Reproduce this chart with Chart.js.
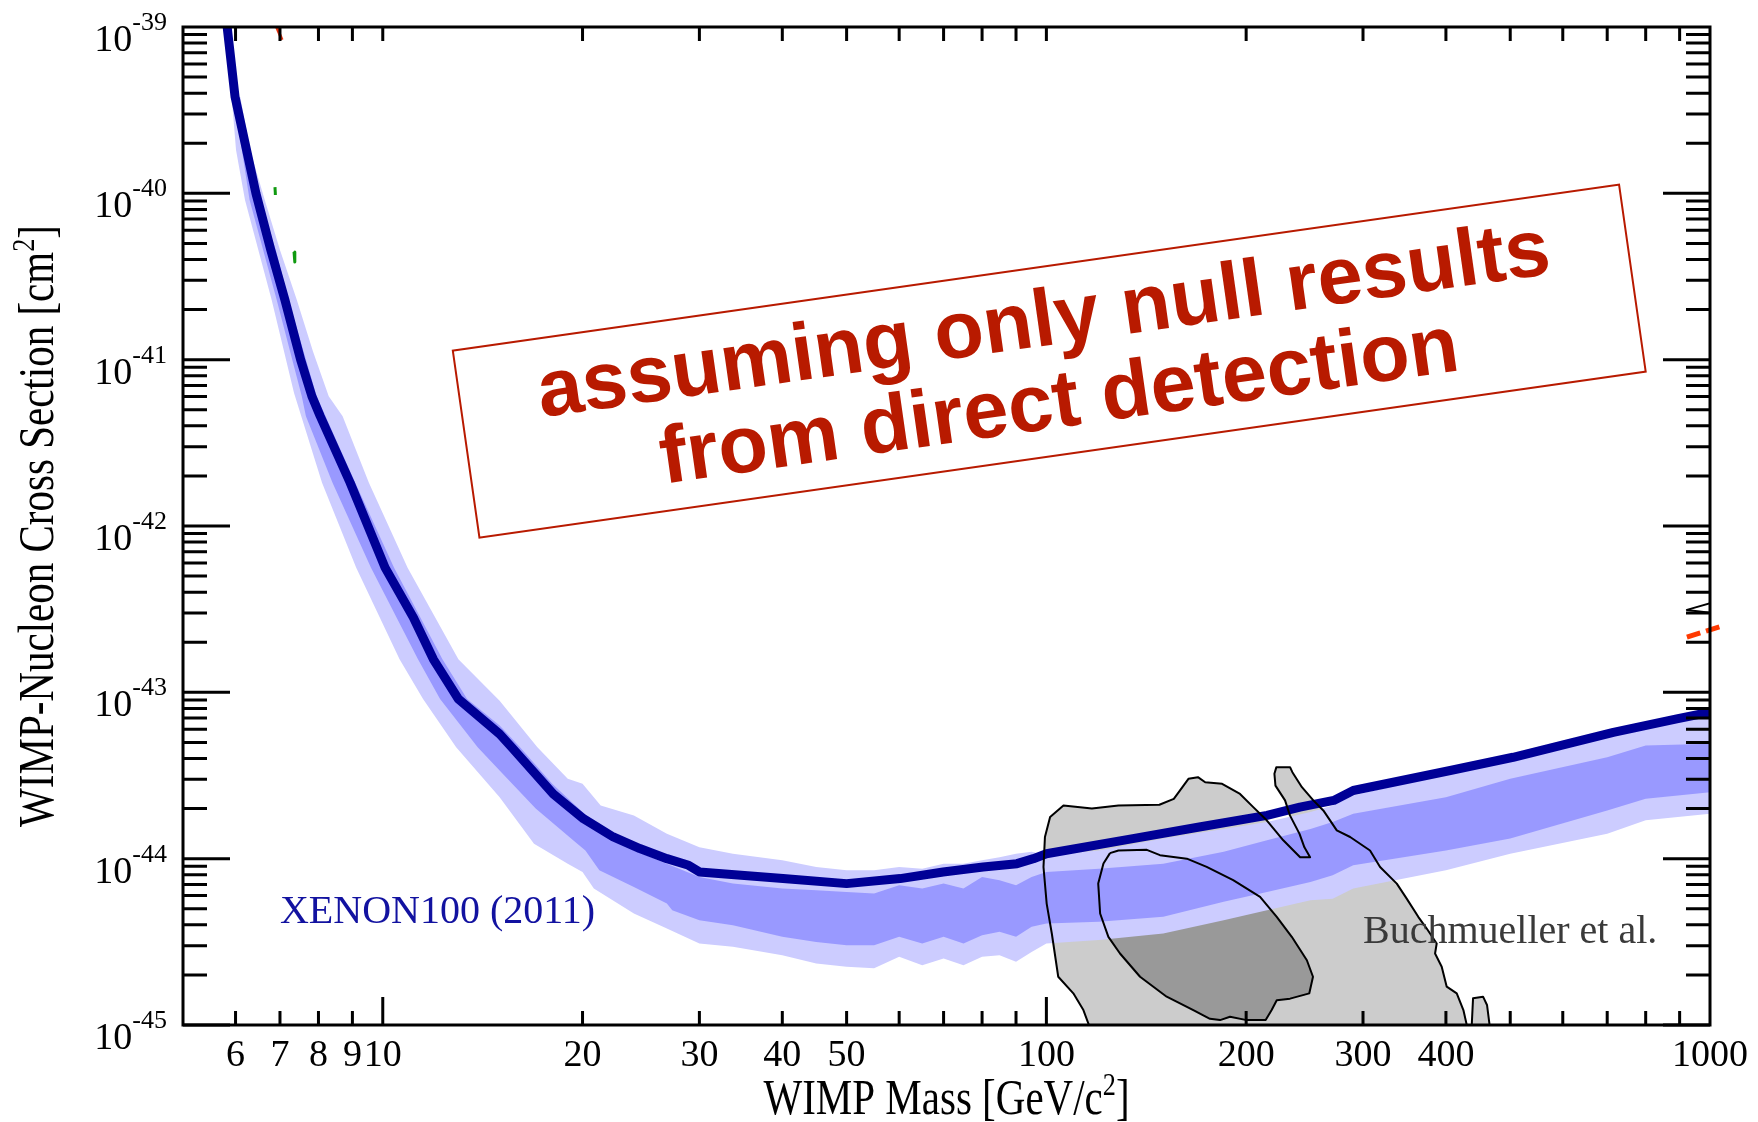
<!DOCTYPE html>
<html>
<head>
<meta charset="utf-8">
<title>XENON100 (2011) WIMP-nucleon limit</title>
<script src="https://cdn.jsdelivr.net/npm/chart.js@4.4.1/dist/chart.umd.min.js"></script>
<style>
  html, body { margin: 0; padding: 0; background: #fff; }
  #wrap { width: 1758px; height: 1122px; position: relative; }
</style>
</head>
<body>
<div id="wrap"><canvas id="limitChart"></canvas></div>
<script>
// XENON100 (2011) observed limit, mass in GeV/c^2, cross section in cm^2
const xenonMass = [5.79, 5.99, 6.44, 6.78, 7.12, 7.52, 7.82, 8.05, 8.93, 10.08, 11.12, 11.92, 13.0, 15.0, 15.64, 18.07, 20.06, 22.25, 24.4, 26.8, 28.9, 30.0, 40.1, 50.0, 60.2, 69.9, 80.3, 90.3, 95.6, 100, 135, 170, 215, 241, 271, 290, 406, 505, 622, 715, 891, 1000];
const xenonSigma = [1.26e-39, 3.80e-40, 1.00e-40, 4.57e-41, 2.29e-41, 1.00e-41, 6.03e-42, 4.57e-42, 1.82e-42, 5.62e-43, 2.82e-43, 1.58e-43, 9.12e-44, 5.62e-44, 4.68e-44, 2.45e-44, 1.74e-44, 1.35e-44, 1.15e-44, 1.00e-44, 9.12e-45, 8.32e-45, 7.59e-45, 7.08e-45, 7.59e-45, 8.32e-45, 8.91e-45, 9.33e-45, 1.00e-44, 1.07e-44, 1.32e-44, 1.55e-44, 1.82e-44, 2.04e-44, 2.24e-44, 2.57e-44, 3.39e-44, 4.07e-44, 5.01e-44, 5.75e-44, 6.92e-44, 7.59e-44];

// expected sensitivity, 2 sigma band (upper / lower edge)
const band2UpMass = [5.92, 6.10, 6.31, 6.64, 7.00, 7.42, 7.85, 8.29, 8.70, 9.53, 10.9, 13.0, 15.0, 17.1, 19.0, 20.0, 21.3, 23.9, 26.8, 30, 33.7, 40, 45, 50, 55, 60, 65, 70, 75, 80, 85, 90, 95, 100, 120, 150, 185, 215, 250, 270, 290, 400, 500, 700, 800, 1000];
const band2UpSigma = [3.80e-40, 3.80e-40, 1.82e-40, 9.12e-41, 4.57e-41, 2.29e-41, 1.12e-41, 6.03e-42, 4.57e-42, 1.82e-42, 5.62e-43, 1.58e-43, 8.91e-44, 4.68e-44, 3.02e-44, 2.82e-44, 2.09e-44, 1.82e-44, 1.41e-44, 1.17e-44, 1.07e-44, 9.77e-45, 8.91e-45, 8.51e-45, 8.51e-45, 8.91e-45, 8.71e-45, 9.33e-45, 9.33e-45, 9.77e-45, 1.02e-44, 1.07e-44, 1.10e-44, 1.05e-44, 1.12e-44, 1.32e-44, 1.51e-44, 1.66e-44, 1.91e-44, 2.09e-44, 2.40e-44, 3.24e-44, 3.89e-44, 5.50e-44, 6.31e-44, 7.08e-44];
const band2LoMass = [5.92, 6.01, 6.20, 6.80, 7.35, 8.10, 9.12, 10.6, 11.5, 12.9, 15.0, 16.9, 19.0, 20.0, 20.8, 23.9, 26.8, 27.1, 30, 33.7, 40, 45, 50, 55, 60, 65, 70, 75, 80, 85, 90, 95, 100, 120, 150, 185, 215, 250, 270, 290, 400, 500, 700, 800, 1000];
const band2LoSigma = [3.80e-40, 1.82e-40, 9.12e-41, 2.29e-41, 6.31e-42, 1.82e-42, 5.62e-43, 1.58e-43, 9.12e-44, 4.68e-44, 2.34e-44, 1.23e-44, 9.33e-45, 8.32e-45, 6.61e-45, 4.68e-45, 3.80e-45, 3.72e-45, 3.09e-45, 2.95e-45, 2.63e-45, 2.34e-45, 2.24e-45, 2.19e-45, 2.57e-45, 2.29e-45, 2.51e-45, 2.29e-45, 2.57e-45, 2.63e-45, 2.40e-45, 2.75e-45, 3.09e-45, 3.24e-45, 3.55e-45, 4.27e-45, 4.90e-45, 5.62e-45, 5.75e-45, 6.61e-45, 8.51e-45, 1.07e-44, 1.41e-44, 1.70e-44, 1.86e-44];

// expected sensitivity, 1 sigma band
const band1UpMass = [5.96, 6.02, 6.47, 6.90, 7.21, 7.95, 8.20, 9.09, 10.4, 12.3, 13.4, 15.0, 16.1, 18.0, 21.3, 23.9, 26.8, 30, 33.7, 40, 45, 50, 55, 60, 65, 70, 75, 80, 85, 90, 95, 100, 120, 150, 185, 215, 250, 270, 290, 400, 500, 700, 800, 1000];
const band1UpSigma = [3.80e-40, 3.80e-40, 1.00e-40, 4.57e-41, 2.29e-41, 6.03e-42, 4.57e-42, 1.82e-42, 5.62e-43, 1.58e-43, 9.12e-44, 6.31e-44, 4.68e-44, 2.82e-44, 1.51e-44, 1.12e-44, 9.33e-45, 7.76e-45, 7.08e-45, 6.61e-45, 6.46e-45, 6.31e-45, 6.17e-45, 6.92e-45, 6.61e-45, 7.08e-45, 6.61e-45, 7.76e-45, 7.41e-45, 6.92e-45, 7.76e-45, 8.32e-45, 8.71e-45, 9.33e-45, 1.10e-44, 1.29e-44, 1.51e-44, 1.66e-44, 1.86e-44, 2.34e-44, 3.02e-44, 4.07e-44, 4.79e-44, 4.90e-44];
const band1LoMass = [5.96, 6.30, 6.92, 7.55, 7.66, 8.40, 9.60, 11.3, 12.2, 13.9, 15.0, 17.0, 19.5, 20.2, 21.2, 23.9, 26.8, 27.3, 30, 33.7, 40, 45, 50, 55, 60, 65, 70, 75, 80, 85, 90, 95, 100, 120, 150, 185, 215, 250, 270, 290, 400, 500, 700, 800, 1000];
const band1LoSigma = [3.80e-40, 9.12e-41, 2.29e-41, 6.03e-42, 4.57e-42, 1.82e-42, 5.62e-43, 1.58e-43, 9.12e-44, 4.68e-44, 3.39e-44, 2.00e-44, 1.26e-44, 1.12e-44, 8.51e-45, 6.76e-45, 5.37e-45, 4.90e-45, 4.27e-45, 3.98e-45, 3.39e-45, 3.16e-45, 3.02e-45, 3.02e-45, 3.39e-45, 3.09e-45, 3.39e-45, 3.09e-45, 3.47e-45, 3.63e-45, 3.39e-45, 3.89e-45, 4.07e-45, 4.17e-45, 4.47e-45, 5.50e-45, 6.31e-45, 7.24e-45, 7.94e-45, 9.12e-45, 1.12e-44, 1.32e-44, 1.95e-44, 2.29e-44, 2.51e-44];

// Buchmueller et al. CMSSM fit contours (outer = 2 sigma, inner = 1 sigma)
const buchOuterMass = [118.4, 113.7, 109.8, 104.2, 101.9, 100.1, 99.0, 99.5, 101.3, 106.1, 117.1, 128.4, 148.0, 155.6, 163.7, 169.2, 173.5, 184.0, 195.8, 205.0, 214.8, 227.5, 241.2, 249.7, 244.8, 240.7, 232.8, 228.9, 221.4, 220.6, 222.1, 232.9, 234.8, 242.7, 252.5, 261.4, 273.9, 286.9, 307.4, 318.3, 337.3, 349.1, 363.4, 374.2, 387.4, 385.2, 394.2, 401.1, 415.3, 425.0, 430.0, 437.5, 439.5, 455.0, 461.3, 468.9];
const buchOuterSigma = [7.94e-46, 1.23e-45, 1.55e-45, 1.95e-45, 3.55e-45, 5.37e-45, 8.91e-45, 1.35e-44, 1.78e-44, 2.09e-44, 2.00e-44, 2.09e-44, 2.11e-44, 2.29e-44, 3.02e-44, 3.09e-44, 2.88e-44, 2.82e-44, 2.45e-44, 2.04e-44, 1.70e-44, 1.29e-44, 1.02e-44, 1.02e-44, 1.17e-44, 1.41e-44, 1.82e-44, 2.24e-44, 2.75e-44, 3.24e-44, 3.55e-44, 3.55e-44, 3.31e-44, 2.69e-44, 2.24e-44, 1.95e-44, 1.48e-44, 1.35e-44, 1.12e-44, 8.91e-45, 7.08e-45, 5.75e-45, 4.47e-45, 3.80e-45, 3.09e-45, 2.69e-45, 2.24e-45, 1.70e-45, 1.55e-45, 1.23e-45, 1.00e-45, 1.00e-45, 1.45e-45, 1.48e-45, 1.32e-45, 7.94e-46];
const buchInnerMass = [124.7, 128.4, 141.7, 148.3, 162.8, 174.4, 191.2, 209.9, 222.4, 234.3, 246.9, 252.2, 249.0, 232.9, 222.4, 218.5, 214.0, 200.4, 189.1, 182.7, 176.4, 166.5, 151.8, 138.4, 129.1, 124.0, 120.5, 119.7, 121.9, 124.7];
const buchInnerSigma = [1.08e-44, 1.12e-44, 1.13e-44, 1.05e-44, 1.00e-44, 8.93e-45, 7.43e-45, 5.89e-45, 4.47e-45, 3.39e-45, 2.45e-45, 1.95e-45, 1.55e-45, 1.44e-45, 1.41e-45, 1.23e-45, 1.07e-45, 1.07e-45, 1.12e-45, 1.07e-45, 1.09e-45, 1.23e-45, 1.48e-45, 1.95e-45, 2.69e-45, 3.39e-45, 4.68e-45, 7.10e-45, 9.35e-45, 1.08e-44];

// bits of other curves that poke into the frame
const redTopMass = [6.85, 7.05];
const redTopSigma = [1.10e-39, 8.36e-40];
const greenMassA = [6.88, 6.89];
const greenSigmaA = [1.09e-40, 9.77e-41];
const greenMassB = [7.35, 7.37];
const greenSigmaB = [4.44e-41, 3.86e-41];
const blackEdgeMass = [1010, 923, 1010];
const blackEdgeSigma = [3.47e-43, 3.13e-43, 2.99e-43];
const redDashMass = [923, 1042];
const redDashSigma = [2.15e-43, 2.50e-43];

// axis ticks
const xTickValues = [6, 7, 8, 9, 10, 20, 30, 40, 50, 100, 200, 300, 400, 1000];
const xTickLabels = ['6', '7', '8', '9', '10', '20', '30', '40', '50', '100', '200', '300', '400', '1000'];
const yDecadeExponents = [-39, -40, -41, -42, -43, -44, -45];

// where the text annotations sit (data coordinates)
const xenonLabelAt = [7.0, 4.1e-45];
const buchLabelAt = [300, 3.1e-45];
const noteBoxAt = [101, 9.8e-42];

const serif = '"Liberation Serif", "Times New Roman", Times, serif';

const pts = (ms, ss) => ms.map((m, i) => ({ x: m, y: ss[i] }));
const ring = (upM, upS, loM, loS) => pts(upM, upS).concat(pts(loM, loS).reverse());

// text made of pieces: [string, font size, baseline shift]
function drawRich(ctx, parts, x, y, align) {
    let total = 0;
    parts.forEach(p => { ctx.font = p[1] + 'px ' + serif; total += ctx.measureText(p[0]).width; });
    let cx = align === 'right' ? x - total : (align === 'center' ? x - total / 2 : x);
    ctx.textAlign = 'left';
    parts.forEach(p => {
        ctx.font = p[1] + 'px ' + serif;
        ctx.fillText(p[0], cx, y + p[2]);
        cx += ctx.measureText(p[0]).width;
    });
}

function drawTitle(ctx, parts, cx, cy, angle, squeeze) {
    ctx.save();
    ctx.translate(cx, cy);
    ctx.rotate(angle);
    ctx.scale(squeeze, 1);
    drawRich(ctx, parts, 0, 0, 'center');
    ctx.restore();
}

const frameAndLabels = {
    id: 'frameAndLabels',
    afterDatasetsDraw(chart) {
        const { ctx, chartArea: a, scales: { x, y } } = chart;
        ctx.save();
        ctx.strokeStyle = '#000';
        ctx.fillStyle = '#000';
        ctx.lineWidth = 3;

        // ticks point inwards on all four sides
        ctx.beginPath();
        for (let e = 0; e <= 3; e++) {
            for (let k = 1; k <= 9; k++) {
                const v = k * Math.pow(10, e);
                if (v <= 5 || v >= 1000) continue;
                const px = x.getPixelForValue(v);
                ctx.moveTo(px, a.bottom);
                ctx.lineTo(px, a.bottom - (k === 1 ? 28 : 14));
                ctx.moveTo(px, a.top);
                ctx.lineTo(px, a.top + 14);
            }
        }
        for (let e = -45; e < -39; e++) {
            for (let k = 1; k <= 9; k++) {
                const py = y.getPixelForValue(k * Math.pow(10, e));
                const len = k === 1 ? 47 : 24;
                ctx.moveTo(a.left, py);
                ctx.lineTo(a.left + len, py);
                ctx.moveTo(a.right, py);
                ctx.lineTo(a.right - len, py);
            }
        }
        ctx.stroke();
        ctx.strokeRect(a.left, a.top, a.right - a.left, a.bottom - a.top);

        // tick labels
        ctx.textAlign = 'center';
        ctx.font = '38px ' + serif;
        xTickValues.forEach((v, i) => ctx.fillText(xTickLabels[i], x.getPixelForValue(v), a.bottom + 41));
        yDecadeExponents.forEach(e => {
            const py = y.getPixelForValue(Math.pow(10, e));
            drawRich(ctx, [['10', 38, 24], [String(e), 26, 3]], a.left - 16, py, 'right');
        });

        // axis titles
        drawTitle(ctx, [['WIMP Mass [GeV/c', 50, 0], ['2', 32, -19], [']', 50, 0]],
            (a.left + a.right) / 2, a.bottom + 89, 0, 0.82);
        drawTitle(ctx, [['WIMP-Nucleon Cross Section [cm', 50, 0], ['2', 32, -19], [']', 50, 0]],
            53, (a.top + a.bottom) / 2, -Math.PI / 2, 0.82);

        // curve labels
        ctx.textAlign = 'left';
        ctx.fillStyle = '#1212a0';
        ctx.font = '40px ' + serif;
        ctx.fillText('XENON100 (2011)', x.getPixelForValue(xenonLabelAt[0]), y.getPixelForValue(xenonLabelAt[1]));
        ctx.fillStyle = '#3a3a3a';
        ctx.font = '40px ' + serif;
        ctx.fillText('Buchmueller et al.', x.getPixelForValue(buchLabelAt[0]), y.getPixelForValue(buchLabelAt[1]));

        // tilted note box
        ctx.translate(x.getPixelForValue(noteBoxAt[0]), y.getPixelForValue(noteBoxAt[1]));
        ctx.rotate(-8.1 * Math.PI / 180);
        ctx.strokeStyle = '#b81a00';
        ctx.lineWidth = 2;
        ctx.strokeRect(-589, -94.5, 1178, 189);
        ctx.fillStyle = '#b81a00';
        ctx.font = 'bold 81px "Liberation Sans", Arial, Helvetica, sans-serif';
        ctx.textAlign = 'center';
        ctx.fillText('assuming only null results', 0, -16);
        ctx.fillText('from direct detection', 4, 67);
        ctx.restore();
    }
};

const noClip = { left: 0, top: 0, right: 0, bottom: 0 };

new Chart(document.getElementById('limitChart'), {
    type: 'line',
    data: {
        datasets: [
            { label: 'Buchmueller outer', data: pts(buchOuterMass, buchOuterSigma), borderColor: '#000', borderWidth: 2, fill: false, order: 0 },
            { label: 'Buchmueller inner', data: pts(buchInnerMass, buchInnerSigma), borderColor: '#000', borderWidth: 2, fill: false, order: 0 },
            { label: 'red top', data: pts(redTopMass, redTopSigma), borderColor: '#e8300c', borderWidth: 3, fill: false, order: 0 },
            { label: 'green a', data: pts(greenMassA, greenSigmaA), borderColor: '#109a10', borderWidth: 3, fill: false, order: 0 },
            { label: 'green b', data: pts(greenMassB, greenSigmaB), borderColor: '#109a10', borderWidth: 3, fill: false, order: 0 },
            { label: 'black edge', data: pts(blackEdgeMass, blackEdgeSigma), borderColor: '#000', borderWidth: 2, fill: false, order: 0 },
            { label: 'red dashed', data: pts(redDashMass, redDashSigma), borderColor: '#ff3a00', borderWidth: 5, borderDash: [14, 6], fill: false, order: 0, clip: { left: 0, top: 0, right: 14, bottom: 0 } },
            { label: 'XENON100 (2011)', data: pts(xenonMass, xenonSigma), borderColor: '#000096', borderWidth: 9, fill: false, order: 1 },
            { label: '1 sigma', data: ring(band1UpMass, band1UpSigma, band1LoMass, band1LoSigma), borderWidth: 0, backgroundColor: '#9999ff', fill: 'shape', order: 2 },
            { label: '2 sigma', data: ring(band2UpMass, band2UpSigma, band2LoMass, band2LoSigma), borderWidth: 0, backgroundColor: '#ccccff', fill: 'shape', order: 3 },
            { label: 'Buchmueller inner fill', data: pts(buchInnerMass, buchInnerSigma), borderWidth: 0, backgroundColor: '#999999', fill: 'shape', order: 4 },
            { label: 'Buchmueller outer fill', data: pts(buchOuterMass, buchOuterSigma), borderWidth: 0, backgroundColor: '#cccccc', fill: 'shape', order: 5 }
        ].map(d => Object.assign({ clip: noClip, tension: 0, pointRadius: 0, borderJoinStyle: 'round' }, d))
    },
    options: {
        responsive: true,
        maintainAspectRatio: false,
        devicePixelRatio: 1,
        animation: false,
        events: [],
        layout: { padding: { left: 183, right: 48, top: 27, bottom: 97 } },
        plugins: { legend: { display: false }, tooltip: { enabled: false } },
        scales: {
            x: { type: 'logarithmic', min: 5, max: 1000, display: false },
            y: { type: 'logarithmic', min: 1e-45, max: 1e-39, display: false }
        }
    },
    plugins: [frameAndLabels]
});
</script>
</body>
</html>
